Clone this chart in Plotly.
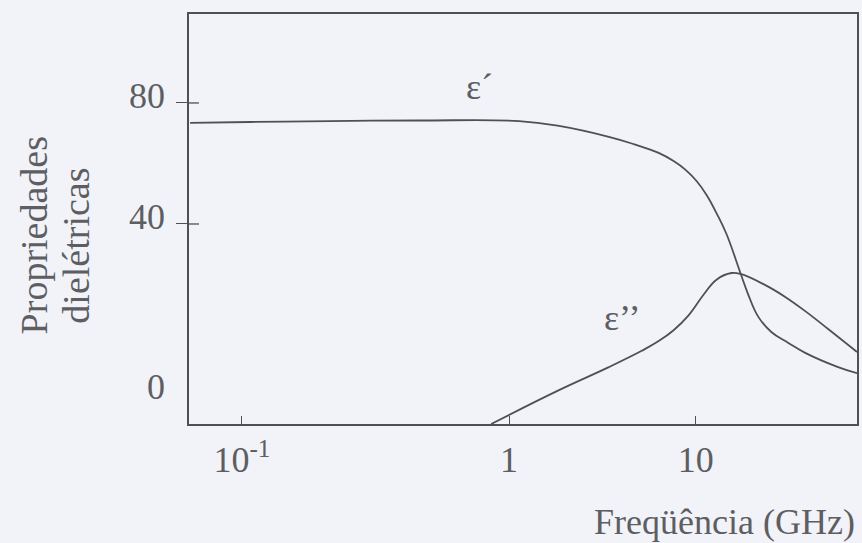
import math
import plotly.graph_objects as go

# Values (x in GHz on the drawn log axis, y in axis units)
eps1_freq = [0.0640, 0.107, 0.213, 0.461, 1.09, 1.537, 2.361, 2.927, 3.628, 4.127, 4.576,
             5.03, 5.483, 5.973, 6.509, 7.340, 7.865, 8.566, 9.579, 11.09, 12.83, 17.03, 20.05]
eps1_vals = [73.4, 73.7, 74.0, 74.2, 74.0, 72.4, 68.8, 66.4, 63.5, 60.8, 57.9,
             54.2, 49.6, 43.6, 36.7, 23.8, 16.5, 9.3, 4.3, 0.7, -2.6, -7.3, -9.3]

eps2_freq = [0.857, 1.537, 2.361, 3.136, 3.628, 4.127, 4.695, 5.341, 5.973, 6.795, 7.340,
             9.099, 10.80, 12.83, 15.63, 20.05]
eps2_vals = [-26.1, -14.9, -7.3, -1.9, 1.3, 4.9, 9.8, 16.6, 21.6, 23.8, 23.5,
             19.8, 15.9, 11.2, 5.3, -2.3]

x_tickvals = [0.1, 1, 5.0]
x_ticktext = ["10<sup>-1</sup>", "1", "10"]
y_tickvals = [40, 80]
y_label_vals = [-14, 40, 80]
y_label_text = ["0", "40", "80"]

eps1_label = ("ε´", 0.773, 85.3)
eps2_label = ("ε’’", 2.64, 8.9)

X_RANGE = [-1.198, 1.302]
Y_RANGE = [-26.1, 109.4]

INK = "#505053"
TXT = "#5e5e62"
BG = "#f1f3f8"
FONT = "Liberation Serif, Times New Roman, serif"
FS = 36

fig = go.Figure()
for fx, fy in [(eps1_freq, eps1_vals), (eps2_freq, eps2_vals)]:
    fig.add_trace(go.Scatter(x=fx, y=fy, mode="lines",
                             line=dict(color=INK, width=1.8, shape="spline", smoothing=1.2),
                             hoverinfo="skip", showlegend=False))

fig.update_layout(
    width=862, height=543,
    margin=dict(l=189, r=3, t=14, b=119),
    paper_bgcolor=BG, plot_bgcolor=BG,
    font=dict(family=FONT, color=TXT, size=FS),
    xaxis=dict(type="log", range=X_RANGE, tickvals=x_tickvals, ticktext=x_ticktext,
               ticks="inside", ticklen=8, tickwidth=1.3, tickcolor=INK,
               showline=True, mirror=True, linecolor=INK, linewidth=1.6,
               showgrid=False, zeroline=False, ticklabelstandoff=3,
               tickfont=dict(family=FONT, size=FS, color=TXT)),
    yaxis=dict(range=Y_RANGE, tickvals=y_tickvals, showticklabels=False,
               ticks="outside", ticklen=11, tickwidth=1.3, tickcolor=INK,
               showline=True, mirror=True, linecolor=INK, linewidth=1.6,
               showgrid=False, zeroline=False),
)

# inner half of the cross-shaped y ticks
for v in y_tickvals:
    fig.add_shape(type="line", xref="paper", yref="y", x0=0, x1=10 / 670, y0=v, y1=v,
                  line=dict(color=INK, width=1.3))

# y tick labels (drawn slightly above their ticks, as in the picture)
for v, t in zip(y_label_vals, y_label_text):
    fig.add_annotation(x=0, xref="paper", y=v, yref="y", text=t, showarrow=False,
                       xanchor="right", xshift=-22, yshift=0 if v < 0 else 7,
                       font=dict(family=FONT, size=FS, color=TXT))

for txt, fx, fy in [eps1_label, eps2_label]:
    fig.add_annotation(x=math.log10(fx), y=fy, xref="x", yref="y", text=txt,
                       showarrow=False, font=dict(family=FONT, size=FS, color=TXT))

fig.add_annotation(x=1, xref="paper", y=-0.238, yref="paper", yanchor="middle",
                   text="Freqüência (GHz)", showarrow=False, xanchor="right", xshift=0,
                   font=dict(family=FONT, size=FS, color=TXT))
fig.add_annotation(x=0, xref="paper", xshift=-178, y=0.46, yref="paper",
                   text="Propriedades", textangle=-90, showarrow=False,
                   font=dict(family=FONT, size=38, color=TXT))
fig.add_annotation(x=0, xref="paper", xshift=-136, y=0.435, yref="paper",
                   text="dielétricas", textangle=-90, showarrow=False,
                   font=dict(family=FONT, size=38, color=TXT))

fig.write_html("out.html", config={"displayModeBar": False},
               post_script="document.body.style.margin='0';document.body.style.overflow='hidden';")
